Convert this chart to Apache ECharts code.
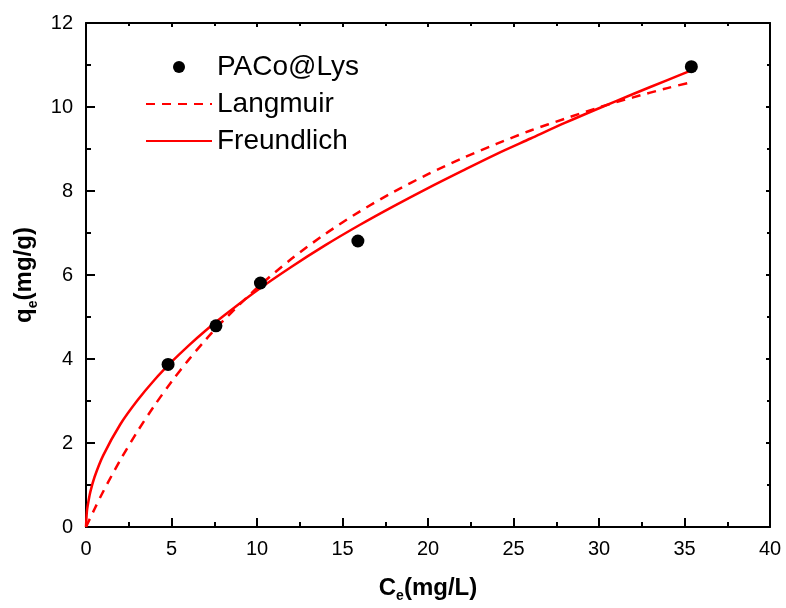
<!DOCTYPE html>
<html><head><meta charset="utf-8">
<script src="https://cdn.jsdelivr.net/npm/echarts@6/dist/echarts.min.js"></script>
<style>html,body{margin:0;padding:0;background:#fff}#c{width:786px;height:608px}</style>
</head><body><div id="c"></div>
<script>
// Experimental points (Ce, qe)
const pointsCe = [4.8, 7.6, 10.2, 15.9, 35.4];
const pointsQe = [3.87, 4.79, 5.81, 6.81, 10.96];
// Langmuir fitted curve
const langCe = [0, 0.5, 1, 2, 3, 4, 5, 6, 7, 8, 10, 12, 14, 16, 18, 20, 22, 24, 26, 28, 30, 32, 34, 35.4];
const langQe = [0, 0.43, 0.84, 1.59, 2.27, 2.89, 3.46, 3.98, 4.46, 4.9, 5.69, 6.38, 6.98, 7.51, 7.98, 8.4, 8.78, 9.12, 9.44, 9.72, 9.99, 10.23, 10.45, 10.59];
// Freundlich fitted curve
const freuCe = [0, 0.05, 0.1, 0.25, 0.5, 1, 2, 3, 4, 5, 6, 7, 8, 10, 12, 14, 16, 18, 20, 22, 24, 26, 28, 30, 32, 34, 35.4];
const freuQe = [0, 0.36, 0.51, 0.83, 1.19, 1.7, 2.44, 3.01, 3.5, 3.93, 4.32, 4.68, 5.01, 5.63, 6.19, 6.71, 7.19, 7.64, 8.07, 8.48, 8.88, 9.25, 9.62, 9.97, 10.31, 10.64, 10.87];
const seriesNames = ['PACo@Lys', 'Langmuir', 'Freundlich'];

const zip = (a, b) => a.map((v, i) => [v, b[i]]);
const FONT = 'Liberation Sans, Arial, sans-serif';
const chart = echarts.init(document.getElementById('c'), null, {renderer: 'canvas'});
const axisBase = {
  axisLine: {show: true, onZero: false, lineStyle: {color: '#000', width: 2}},
  splitLine: {show: false},
};
const titleRich = {
  b: {fontFamily: FONT, fontSize: 24, fontWeight: 'bold', color: '#000', lineHeight: 28, verticalAlign: 'middle'},
  s: {fontFamily: FONT, fontSize: 14, fontWeight: 'bold', color: '#000', padding: [16, 0, 0, 0], verticalAlign: 'middle'}
};
chart.setOption({
  animation: false,
  backgroundColor: '#fff',
  grid: {left: 86, right: 16, top: 23, bottom: 81, containLabel: false, outerBoundsMode: 'none'},
  legend: {
    orient: 'vertical', left: 140, top: 47,
    itemWidth: 66, itemHeight: 12, itemGap: 7,
    textStyle: {fontFamily: FONT, fontSize: 28, color: '#000', lineHeight: 30},
    data: [
      {name: seriesNames[0]},
      {name: seriesNames[1], itemStyle: {opacity: 0}},
      {name: seriesNames[2], itemStyle: {opacity: 0}}
    ]
  },
  xAxis: [
    Object.assign({}, axisBase, {
      type: 'value', min: 0, max: 40, interval: 5, position: 'bottom',
      axisTick: {inside: true, length: 9, lineStyle: {width: 2, color: '#000'}},
      minorTick: {show: true, splitNumber: 2, length: 5, lineStyle: {width: 2, color: '#000'}},
      axisLabel: {fontFamily: FONT, fontSize: 20, color: '#000', margin: 12},
      name: '{b|C}{s|e}{b|(mg/L)}', nameLocation: 'middle', nameGap: 46,
      nameTextStyle: {rich: titleRich}
    }),
    Object.assign({}, axisBase, {
      type: 'value', min: 0, max: 40, interval: 5, position: 'top',
      axisTick: {inside: true, length: 4, lineStyle: {width: 2, color: '#000'}},
      minorTick: {show: true, splitNumber: 2, length: 3, lineStyle: {width: 2, color: '#000'}},
      axisLabel: {show: false}
    })
  ],
  yAxis: [
    Object.assign({}, axisBase, {
      type: 'value', min: 0, max: 12, interval: 2, position: 'left',
      axisTick: {inside: true, length: 9, lineStyle: {width: 2, color: '#000'}},
      minorTick: {show: true, splitNumber: 2, length: 5, lineStyle: {width: 2, color: '#000'}},
      axisLabel: {fontFamily: FONT, fontSize: 20, color: '#000', margin: 13},
      name: '{b|q}{s|e}{b|(mg/g)}', nameLocation: 'middle', nameGap: 44, nameRotate: 90,
      nameTextStyle: {rich: titleRich}
    }),
    Object.assign({}, axisBase, {
      type: 'value', min: 0, max: 12, interval: 2, position: 'right',
      axisTick: {inside: true, length: 4, lineStyle: {width: 2, color: '#000'}},
      minorTick: {show: true, splitNumber: 2, length: 3, lineStyle: {width: 2, color: '#000'}},
      axisLabel: {show: false}
    })
  ],
  series: [
    {name: seriesNames[0], type: 'scatter', data: zip(pointsCe, pointsQe), symbol: 'circle', symbolSize: 13,
     itemStyle: {color: '#000', opacity: 1}, z: 5},
    {name: seriesNames[1], type: 'line', data: zip(langCe, langQe), symbol: 'none', smooth: 0.3,
     lineStyle: {color: '#ff0000', width: 2.5, type: [9, 7]}, itemStyle: {color: '#ff0000'}},
    {name: seriesNames[2], type: 'line', data: zip(freuCe, freuQe), symbol: 'none', smooth: 0.3,
     lineStyle: {color: '#ff0000', width: 2.5}, itemStyle: {color: '#ff0000'}}
  ]
});
</script></body></html>
